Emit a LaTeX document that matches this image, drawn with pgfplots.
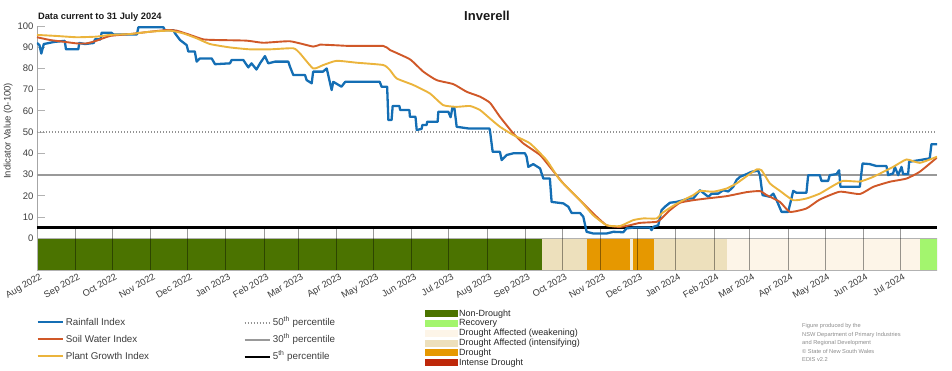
\documentclass[border=0pt]{standalone}
\usepackage{pgfplots}
\pgfplotsset{compat=1.18}
\usepackage{fontspec}
\setmainfont{Liberation Sans}
\definecolor{rainblue}{RGB}{20,110,180}
\definecolor{soilred}{RGB}{208,88,40}
\definecolor{plantyel}{RGB}{235,180,60}
\definecolor{nondrought}{RGB}{75,115,0}
\definecolor{recovery}{RGB}{163,245,110}
\definecolor{weakening}{RGB}{253,245,232}
\definecolor{intensifying}{RGB}{237,224,188}
\definecolor{drought}{RGB}{230,152,0}
\definecolor{intense}{RGB}{190,40,10}
\definecolor{txt}{RGB}{60,60,60}
\pgfplotsset{legendaxis/.style={at={(0,0)}, anchor=south west, scale only axis, width=900pt, height=244pt, hide axis, xmin=0, xmax=1, ymin=0, ymax=1}}
\begin{document}
\begin{tikzpicture}
\path[use as bounding box] (-37pt,-100pt) rectangle (915pt,270pt);
\begin{axis}[
  at={(0,0)}, anchor=south west,
  scale only axis, width=900pt, height=244pt,
  xmin=0, xmax=730, ymin=-15, ymax=100,
  axis lines=left, axis line style={-},
  x axis line style={draw=none},
  y axis line style={-, draw=gray!70, line width=0.8pt},
  clip mode=individual,
  xtick={0,31,61,92,122,153,184,212,243,273,304,334,365,396,426,457,487,518,549,578,609,639,670,700},
  xticklabels={Aug 2022,Sep 2022,Oct 2022,Nov 2022,Dec 2022,Jan 2023,Feb 2023,Mar 2023,Apr 2023,May 2023,Jun 2023,Jul 2023,Aug 2023,Sep 2023,Oct 2023,Nov 2023,Dec 2023,Jan 2024,Feb 2024,Mar 2024,Apr 2024,May 2024,Jun 2024,Jul 2024},
  xtick style={draw=none},
  xticklabel style={font=\fontsize{9.3}{10}\selectfont, text=txt, rotate=30, anchor=north east, xshift=4pt},
  ytick={0,10,20,30,40,50,60,70,80,90,100},
  ytick style={draw=gray!60, line width=0.8pt},
  tick align=inside, major tick length=8pt,
  yticklabel style={font=\fontsize{9.5}{10}\selectfont, text=txt},
  /pgf/number format/assume math mode=true,
  ylabel={Indicator Value (0-100)},
  ylabel style={at={(axis description cs:-0.032,0.57)}, anchor=center, font=\fontsize{9.5}{10}\selectfont, text=txt},
]
% drought category bar
\addplot[forget plot, fill=nondrought, draw=none] coordinates {(0,0) (410,0) (410,-15) (0,-15)} --cycle;
\addplot[forget plot, fill=intensifying, draw=none] coordinates {(410,0) (446.4,0) (446.4,-15) (410,-15)} --cycle;
\addplot[forget plot, fill=drought, draw=none] coordinates {(446.4,0) (481.2,0) (481.2,-15) (446.4,-15)} --cycle;
\addplot[forget plot, fill=intensifying!60, draw=none] coordinates {(481.2,0) (483.7,0) (483.7,-15) (481.2,-15)} --cycle;
\addplot[forget plot, fill=drought, draw=none] coordinates {(483.7,0) (500.2,0) (500.2,-15) (483.7,-15)} --cycle;
\addplot[forget plot, fill=intensifying, draw=none] coordinates {(500.2,0) (559.4,0) (559.4,-15) (500.2,-15)} --cycle;
\addplot[forget plot, fill=weakening, draw=none] coordinates {(559.4,0) (716.2,0) (716.2,-15) (559.4,-15)} --cycle;
\addplot[forget plot, fill=recovery, draw=none] coordinates {(716.2,0) (730,0) (730,-15) (716.2,-15)} --cycle;
\addplot[forget plot, draw=gray!60, line width=0.6pt] coordinates {(0,0) (730,0) (730,-15) (0,-15)} --cycle;
% month lines
\addplot[forget plot, draw=black, opacity=0.4, line width=0.6pt, unbounded coords=jump] coordinates {
(31,-15)(31,4.6)(31,nan) (61,-15)(61,4.6)(61,nan) (92,-15)(92,4.6)(92,nan) (122,-15)(122,4.6)(122,nan)
(153,-15)(153,4.6)(153,nan) (184,-15)(184,4.6)(184,nan) (212,-15)(212,4.6)(212,nan) (243,-15)(243,4.6)(243,nan)
(273,-15)(273,4.6)(273,nan) (304,-15)(304,4.6)(304,nan) (334,-15)(334,4.6)(334,nan) (365,-15)(365,4.6)(365,nan)
(396,-15)(396,4.6)(396,nan) (426,-15)(426,4.6)(426,nan) (457,-15)(457,4.6)(457,nan) (487,-15)(487,4.6)(487,nan)
(518,-15)(518,4.6)(518,nan) (549,-15)(549,4.6)(549,nan) (578,-15)(578,4.6)(578,nan) (609,-15)(609,4.6)(609,nan)
(639,-15)(639,4.6)(639,nan) (670,-15)(670,4.6)(670,nan) (700,-15)(700,4.6)(700,nan)};
% percentile lines
\addplot[forget plot, draw=gray!85, line width=1.3pt, dash pattern=on 1.3pt off 1.7pt] coordinates {(0,50) (730,50)};
\addplot[forget plot, draw=gray!80, line width=2pt] coordinates {(0,30) (730,30)};
\addplot[forget plot, draw=black, line width=2.2pt] coordinates {(0,5) (730,5)};
% Rainfall Index
\addplot[forget plot, draw=rainblue, line width=2.3pt, line join=round] coordinates {
(0,92) (2,91) (3.5,87) (5.5,91.5) (14,92.5) (22.5,93) (23.5,89) (33.5,89) (34.3,92) (39,91.5) (46,92) (47,93.7) (51.5,93.7) (52.4,96.8) (60.5,96.8) (62,96) (81,96) (82.2,99.4) (102.5,99.4) (103.8,98) (110.6,98) (112,96.5) (116,93.4) (121.4,91) (122.7,88) (128,88) (129.5,83.2) (132,84.7) (141.7,84.7) (144.4,82) (156.5,82.4) (157.9,84) (167.3,84) (171.4,80.5) (174,82.4) (178,79.5) (180.9,82.4) (184.9,85.8) (187.6,82.4) (193,83.2) (203.8,83.2) (205.2,80.8) (207.9,76.9) (217.4,76.9) (218.7,74.5) (222.8,73) (224,78.5) (232,78.5) (235,80) (239,69.8) (240.3,73.7) (247,71.4) (250,73.7) (278,73.7) (279.5,71.4) (284,71.4) (285,55.7) (287.6,55.7) (288.5,62.3) (294,62.3) (294.5,60.4) (302,60.4) (302.5,57.2) (307,57.2) (308,51) (312,51.5) (312.5,53.3) (316,53.3) (316.5,54.9) (325,54.9) (325.5,59.6) (333.6,59.6) (335.5,57) (337,61.6) (338.5,61.6) (340.4,52.5) (350,51.7) (367,51.7) (367.5,50.2) (369.6,40.7) (375.5,40.7) (376.9,36.8) (381,39.2) (386.3,40) (395.8,40) (397.1,38.4) (398.5,33.6) (402.5,34.9) (408,32.9) (410.7,28.1) (416,28.1) (417.4,17.1) (426.9,16.4) (431,14.8) (433.6,11.9) (440.4,11.9) (443.1,10.1) (445.8,3) (451.2,2.2) (462,2.2) (467.4,3) (475.5,2.8) (478.2,4.6) (483.6,5) (497.2,5) (498.5,3.8) (499.9,5.3) (503.9,6.1) (506.6,13.2) (509.3,14.8) (513.4,16.7) (518.8,17.1) (524.2,17.9) (528.3,18.7) (532.3,18.7) (537.7,22.6) (544.5,19.5) (547.2,21) (552.6,21) (556.6,22.6) (560.7,22) (564.7,24.2) (567.4,27.4) (570.1,28.9) (575.6,30.2) (579.6,31.3) (585,31.8) (586.4,29.7) (588.5,20.3) (594.5,19.5) (597.2,21) (599.9,17.9) (603.9,12.4) (609.3,12.4) (613.4,22.3) (616,21.4) (624.1,21.4) (625.5,29.7) (634.9,29.7) (636.3,27) (641.7,27) (643,29.7) (648.5,30.2) (650.6,32) (651.7,24.2) (667.4,24.2) (669.6,35.2) (675.5,34.9) (680.9,34) (689,34) (690.4,29.7) (694.4,30.5) (695.8,33.6) (698.5,29.7) (701.2,33.6) (702.5,30.2) (706.6,30.2) (707.4,36) (716,36.8) (724.1,37.6) (725.5,44.3) (730,44.3)};
% Soil Water Index
\addplot[forget plot, draw=soilred, line width=1.9pt, smooth, tension=0.3] coordinates {
(0,94.7) (10.5,93.4) (21.4,92.6) (32.2,91.8) (40.3,91.8) (48.4,93.1) (59.2,95.3) (75.4,96.2) (91.6,97.3) (105.2,98.1) (113.3,97.8) (124.1,95.8) (134.9,93.7) (145.7,93.4) (170,93.1) (183.6,92.1) (205.2,92.8) (224,90.3) (229.5,91.2) (243,90.9) (253.8,90.6) (280.9,90.6) (286.3,88.7) (302.5,84.3) (313.3,78.5) (324.1,74.5) (337.7,72.6) (348.5,69) (359.3,66.7) (367.4,63.8) (375.5,57.2) (386.3,49.4) (394.4,44.7) (408,39.2) (416,33.6) (426.9,25.8) (440.4,17.9) (451.2,11.6) (462,6.1) (472.8,5.3) (480.9,6.1) (489,7.2) (502.6,7.7) (506.6,9.3) (513.4,13.2) (521.5,16.7) (532.3,17.9) (543.1,18.7) (559.3,19.8) (575.6,21.7) (586.4,22.2) (591.8,20.3) (602.6,17.1) (610.7,12.4) (624.1,14) (634.9,18.2) (651.1,21.9) (667.4,20.8) (678.3,24.2) (691.8,26.6) (705.3,28.1) (716,31.3) (730,38)};
% Plant Growth Index
\addplot[forget plot, draw=plantyel, line width=1.9pt, smooth, tension=0.3] coordinates {
(0,95.8) (16,95.3) (32.2,94.7) (48.4,95) (59.2,95.8) (75.4,96.2) (91.6,97.3) (107.9,97.8) (118.7,96.5) (129.5,94.2) (140.3,91.5) (156.5,89.9) (172.7,89) (189,89) (207.9,89.5) (213.3,87.1) (224,80) (232.2,81.6) (243,83.6) (259.3,82.7) (280.9,81.6) (286.3,79.2) (291.7,75.3) (305.2,72.2) (318.7,68.2) (329.5,62.7) (340.4,61.9) (351.2,62.3) (359.3,60.4) (367.4,56.4) (375.5,52.5) (386.3,48.6) (399.8,44.7) (413.3,36.8) (424.2,27.4) (440.4,17.9) (451.2,10.8) (462,6.1) (472.8,5.7) (483.6,8.5) (491.8,9.3) (502.6,9.3) (506.6,11.6) (513.4,14.3) (521.5,17.1) (532.3,20.3) (537.7,22.3) (548.5,21.9) (559.3,23.4) (567.4,25.8) (575.6,29.2) (583.7,32.4) (587.7,32) (594.5,25.8) (602.6,22.3) (613.4,17.9) (624.1,18.7) (634.9,21) (645.7,24.7) (653.8,27) (667.4,26.7) (678.3,28.9) (694.4,33.6) (705.3,37.1) (716,35.5) (730,38.4)};
% texts
\node[font=\bfseries\fontsize{13}{15}\selectfont, text=black!90] at (axis description cs:0.5,1.043) {Inverell};
\node[anchor=west, inner sep=0pt, font=\bfseries\fontsize{9.3}{11}\selectfont, text=black!90] at (axis description cs:0.001,1.037) {Data current to 31 July 2024};
\node[anchor=north west, align=left, inner sep=0pt, font=\fontsize{5.7}{8.5}\selectfont, text=black!45] at (axis description cs:0.85,-0.218) {Figure produced by the\\NSW Department of Primary Industries\\and Regional Development\\\textcopyright\ State of New South Wales\\EDIS v2.2};
\end{axis}
% legend 1
\begin{axis}[legendaxis,
  legend style={at={(axis description cs:-0.004,-0.178)}, anchor=north west, draw=none, fill=none, font=\fontsize{9.8}{11}\selectfont, text=txt, row sep=3.5pt, nodes={inner sep=2pt, text height=7.5pt, text depth=2pt}},
  legend cell align=left,
  legend image code/.code={\draw[#1] (0pt,0pt) -- (25pt,0pt);}]
\addlegendimage{draw=rainblue, line width=2.2pt}
\addlegendentry{Rainfall Index}
\addlegendimage{draw=soilred, line width=2.2pt}
\addlegendentry{Soil Water Index}
\addlegendimage{draw=plantyel, line width=2.2pt}
\addlegendentry{Plant Growth Index}
\end{axis}
% legend 2
\begin{axis}[legendaxis,
  legend style={at={(axis description cs:0.226,-0.18)}, anchor=north west, draw=none, fill=none, font=\fontsize{9.8}{11}\selectfont, text=txt, row sep=3.5pt, nodes={inner sep=2pt, text height=7.5pt, text depth=2pt}},
  legend cell align=left,
  legend image code/.code={\draw[#1] (0pt,0pt) -- (25pt,0pt);}]
\addlegendimage{draw=gray!85, line width=1.3pt, dash pattern=on 1.3pt off 1.7pt}
\addlegendentry{50\textsuperscript{th} percentile}
\addlegendimage{draw=gray!80, line width=2.2pt}
\addlegendentry{30\textsuperscript{th} percentile}
\addlegendimage{draw=black, line width=2.2pt}
\addlegendentry{5\textsuperscript{th} percentile}
\end{axis}
% legend 3
\begin{axis}[legendaxis,
  legend style={at={(axis description cs:0.428,-0.152)}, anchor=north west, draw=none, fill=none, font=\fontsize{9}{10}\selectfont, text=black!85, row sep=0.6pt, nodes={inner sep=0.6pt}},
  legend cell align=left,
  legend image code/.code={\fill[#1, draw=none] (0pt,-3.5pt) rectangle (33pt,3.5pt);}]
\addlegendimage{fill=nondrought, draw=none}
\addlegendentry{Non-Drought}
\addlegendimage{fill=recovery, draw=none}
\addlegendentry{Recovery}
\addlegendimage{fill=weakening, draw=none}
\addlegendentry{Drought Affected (weakening)}
\addlegendimage{fill=intensifying, draw=none}
\addlegendentry{Drought Affected (intensifying)}
\addlegendimage{fill=drought, draw=none}
\addlegendentry{Drought}
\addlegendimage{fill=intense, draw=none}
\addlegendentry{Intense Drought}
\end{axis}
\end{tikzpicture}
\end{document}
